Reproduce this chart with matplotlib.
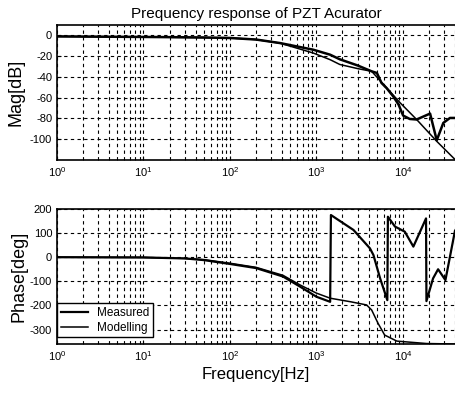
"""
Frequency response (Bode plot) of a PZT actuator: measured vs model.
"""

import matplotlib

matplotlib.use("Agg")
import matplotlib.pyplot as plt
from matplotlib.ticker import LogLocator, NullFormatter

plt.rcParams["font.family"] = ["Liberation Sans", "DejaVu Sans"]
plt.rcParams["axes.unicode_minus"] = False

# magnitude, measured
mag_meas_freq = [1, 10, 50, 100, 200, 380, 920, 1440, 1860, 3000, 4350, 5000,
                 5650, 6450, 7700, 8900, 10050, 12000, 14400, 20600, 24600,
                 29300, 35000, 40000]
mag_meas_db = [-1, -1.5, -2, -2.5, -4, -7.4, -13.8, -18.6, -23, -29, -34.6,
               -36.2, -45.8, -50.6, -58.6, -66.6, -77.2, -80.5, -81, -75.3,
               -101, -84.3, -79.5, -79.5]

# magnitude, model
mag_model_freq = [1, 10, 100, 200, 380, 920, 1440, 1860, 3000, 4350, 9300,
                  14400, 24600, 40000]
mag_model_db = [-1, -1.5, -2.5, -4, -7.5, -17, -23.4, -28, -32, -34.6, -65,
                -81, -102, -119.5]

# phase, measured
ph_meas_freq = [1, 10, 30, 50, 100, 200, 410, 646, 1000, 1440, 1470, 2680,
                4150, 4560, 5450, 6600, 6700, 8100, 10500, 13200, 18500, 18700,
                22300, 25500, 31000, 40000]
ph_meas_deg = [0, -1, -5, -12, -28, -45, -80, -122, -164, -185, 175, 113,
               37, 9, -88, -178, 168, 127, 106, 44, 161, -182,
               -88, -50, -95, 110]

# phase, model
ph_model_freq = [1, 10, 30, 50, 100, 200, 410, 646, 1000, 1440, 2500, 3800,
                 4350, 5150, 6150, 8500, 18700, 40000]
ph_model_deg = [0, -1, -5, -10, -25, -42, -75, -115, -149, -170, -185, -198,
                -219, -274, -323, -348, -358, -360]

mag_ticks = [0, -20, -40, -60, -80, -100]
phase_ticks = [200, 100, 0, -100, -200, -300]

fig = plt.figure(figsize=(4.55, 3.93), dpi=100)
ax_mag = fig.add_axes([57 / 455, 1 - 160 / 393, 398 / 455, 135 / 393])
ax_ph = fig.add_axes([57 / 455, 1 - 344 / 393, 398 / 455, 135 / 393])

ax_mag.semilogx(mag_meas_freq, mag_meas_db, color="black", lw=1.8)
ax_mag.semilogx(mag_model_freq, mag_model_db, color="black", lw=1.1)
ax_ph.semilogx(ph_meas_freq, ph_meas_deg, color="black", lw=1.6,
               label="Measured")
ax_ph.semilogx(ph_model_freq, ph_model_deg, color="black", lw=1.1,
               label="Modelling")

ax_mag.set_ylim(-120, 10)
ax_mag.set_yticks(mag_ticks)
ax_ph.set_ylim(-360, 200)
ax_ph.set_yticks(phase_ticks)

for ax in (ax_mag, ax_ph):
    ax.set_xlim(1, 4e4)
    ax.xaxis.set_major_locator(LogLocator(base=10, numticks=10))
    ax.xaxis.set_minor_locator(LogLocator(base=10, subs=range(2, 10),
                                          numticks=20))
    ax.xaxis.set_minor_formatter(NullFormatter())
    ax.grid(True, which="both", axis="x", color="black", lw=0.8,
            linestyle=(0, (3, 3)))
    ax.grid(True, which="major", axis="y", color="black", lw=0.8,
            linestyle=(0, (3, 3)))
    ax.tick_params(which="both", direction="in", labelsize=8, length=3)
    ax.tick_params(which="minor", length=2)
    ax.spines["right"].set_visible(False)
    for side in ("left", "top", "bottom"):
        ax.spines[side].set_linewidth(1.2)

ax_mag.set_title("Prequency response of PZT Acurator", fontsize=11, pad=5)
ax_mag.set_ylabel("Mag[dB]", fontsize=13, labelpad=4)
ax_ph.set_ylabel("Phase[deg]", fontsize=13, labelpad=2)
ax_ph.set_xlabel("Frequency[Hz]", fontsize=12, labelpad=3)

ax_ph.legend(loc="lower left", bbox_to_anchor=(0.0, 0.05), fontsize=8.5,
             frameon=True, fancybox=False, edgecolor="black", framealpha=1,
             handlelength=2.3, borderaxespad=0, borderpad=0.3,
             labelspacing=0.25)

fig.savefig("out.png", dpi=100)
